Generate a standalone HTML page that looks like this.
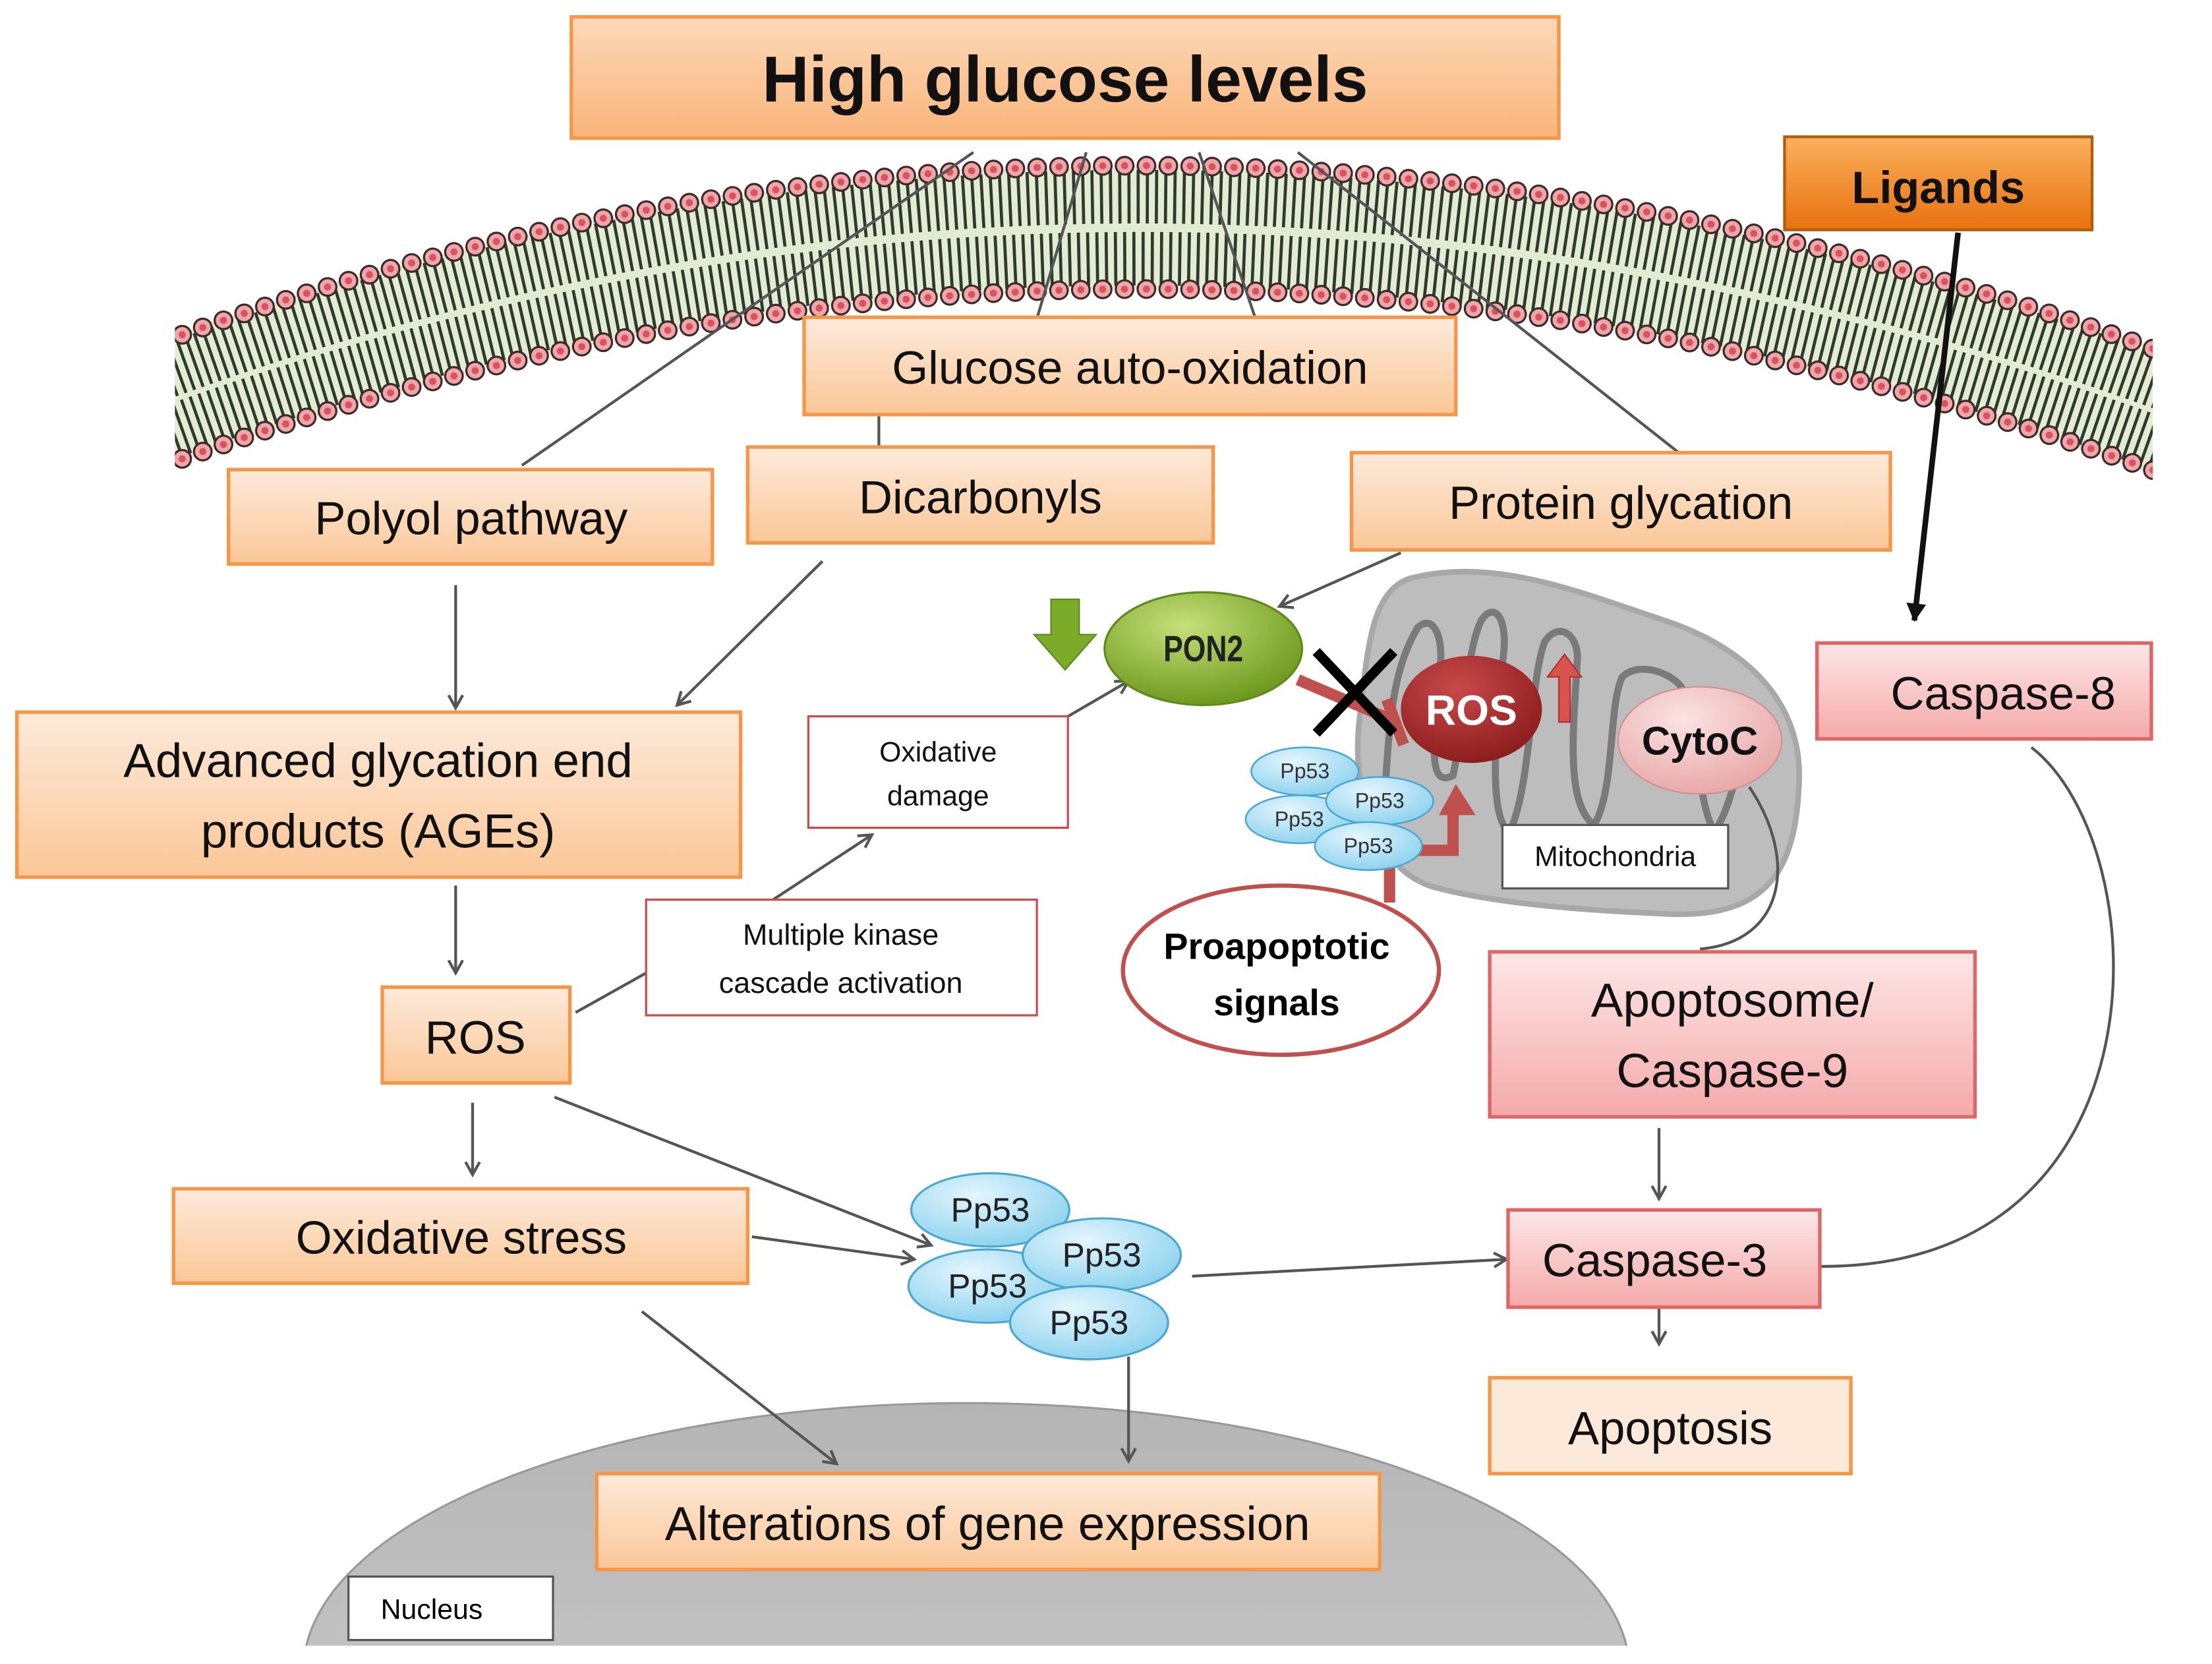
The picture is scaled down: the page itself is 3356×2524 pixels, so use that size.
<!DOCTYPE html>
<html><head><meta charset="utf-8"><style>
html,body{margin:0;padding:0;background:#fff;overflow:hidden;width:3356px;height:2524px;}
svg{display:block;}
text{font-family:"Liberation Sans",sans-serif;}
</style></head><body>
<svg width="3356" height="2524" viewBox="0 0 1568 1180" preserveAspectRatio="none" xmlns="http://www.w3.org/2000/svg">
<defs>
<linearGradient id="og" x1="0" y1="0" x2="0" y2="1"><stop offset="0" stop-color="#fdeadb"/><stop offset="1" stop-color="#fbc797"/></linearGradient>
<linearGradient id="og2" x1="0" y1="0" x2="0" y2="1"><stop offset="0" stop-color="#fcd9b8"/><stop offset="1" stop-color="#f9b47a"/></linearGradient>
<linearGradient id="lg" x1="0" y1="0" x2="0" y2="1"><stop offset="0" stop-color="#fbb05e"/><stop offset="1" stop-color="#e8710e"/></linearGradient>
<linearGradient id="pg" x1="0" y1="0" x2="0" y2="1"><stop offset="0" stop-color="#fde7e7"/><stop offset="1" stop-color="#f5a9a9"/></linearGradient>
<linearGradient id="ng" x1="0" y1="0" x2="0" y2="1"><stop offset="0" stop-color="#b5b5b5"/><stop offset="1" stop-color="#cfcfcf"/></linearGradient>
<radialGradient id="grn" cx="0.4" cy="0.3" r="0.7"><stop offset="0" stop-color="#c6e07a"/><stop offset="1" stop-color="#6e9a1e"/></radialGradient>
<radialGradient id="red" cx="0.4" cy="0.3" r="0.7"><stop offset="0" stop-color="#c9494a"/><stop offset="1" stop-color="#8e1e1e"/></radialGradient>
<radialGradient id="pk" cx="0.4" cy="0.3" r="0.7"><stop offset="0" stop-color="#fbe3e3"/><stop offset="1" stop-color="#e9a9aa"/></radialGradient>
<radialGradient id="bl" cx="0.4" cy="0.3" r="0.7"><stop offset="0" stop-color="#e4f6fd"/><stop offset="1" stop-color="#8fd3ef"/></radialGradient>
<marker id="ar" markerWidth="12" markerHeight="12" refX="10" refY="6" orient="auto" markerUnits="userSpaceOnUse"><path d="M1,1 L10,6 L1,11" fill="none" stroke="#555" stroke-width="2"/></marker>
<marker id="arb" markerWidth="16" markerHeight="16" refX="13" refY="8" orient="auto" markerUnits="userSpaceOnUse"><path d="M1,1 L14,8 L1,15 Z" fill="#111"/></marker>
<clipPath id="mc"><rect x="124" y="0" width="1402" height="400"/></clipPath>
<clipPath id="nc"><rect x="0" y="0" width="1568" height="1167"/></clipPath>
</defs>

<g clip-path="url(#mc)">
<path d="M100,292 Q812,27 1550,300" fill="none" stroke="#e3ecd3" stroke-width="86"/>
<path d="M100,270 Q812,5 1550,278" fill="none" stroke="#2e3a2e" stroke-width="38" stroke-dasharray="2.2 4.3"/>
<path d="M100,314 Q812,49 1550,322" fill="none" stroke="#2e3a2e" stroke-width="38" stroke-dasharray="2.2 4.3" stroke-dashoffset="3"/>
<path d="M100,248 Q812,-17 1550,256" fill="none" stroke="#3a2a2a" stroke-width="14" stroke-dasharray="0 15.5" stroke-linecap="round"/>
<path d="M100,248 Q812,-17 1550,256" fill="none" stroke="#f0a5a8" stroke-width="11" stroke-dasharray="0 15.5" stroke-linecap="round"/>
<path d="M100,248 Q812,-17 1550,256" fill="none" stroke="#d9535f" stroke-width="5" stroke-dasharray="0 15.5" stroke-linecap="round"/>
<path d="M100,336 Q812,71 1550,342" fill="none" stroke="#3a2a2a" stroke-width="14" stroke-dasharray="0 15.5" stroke-linecap="round"/>
<path d="M100,336 Q812,71 1550,342" fill="none" stroke="#f0a5a8" stroke-width="11" stroke-dasharray="0 15.5" stroke-linecap="round"/>
<path d="M100,336 Q812,71 1550,342" fill="none" stroke="#d9535f" stroke-width="5" stroke-dasharray="0 15.5" stroke-linecap="round"/>
</g>
<g stroke="#555" stroke-width="2" fill="none">
<line x1="690" y1="108" x2="370" y2="330"/>
<line x1="770" y1="108" x2="735" y2="226"/>
<line x1="850" y1="108" x2="890" y2="226"/>
<line x1="920" y1="108" x2="1190" y2="321"/>
</g>

<g clip-path="url(#nc)">
<ellipse cx="685" cy="1185" rx="470" ry="190" fill="url(#ng)" stroke="#999" stroke-width="1.5"/>
</g>
<rect x="247" y="1118" width="145" height="45" fill="#fff" stroke="#555" stroke-width="1.5"/>
<text x="306" y="1148" font-size="20" text-anchor="middle">Nucleus</text>

<path d="M1000,410 C1060,395 1120,420 1180,440 C1240,460 1280,500 1275,560 C1272,620 1250,652 1180,648 C1110,645 1060,640 1020,630 C975,620 955,560 965,500 C970,450 975,418 1000,410 Z" fill="#bdbdbd" stroke="#a8a8a8" stroke-width="4"/>
<path d="M982,560 C985,500 990,470 1005,445 C1015,435 1025,450 1020,480 C1018,520 1010,560 1030,550 C1040,500 1040,460 1050,440 C1060,425 1070,440 1065,470 C1060,520 1055,580 1070,590 C1085,560 1085,480 1095,455 C1105,440 1120,450 1118,470 C1115,520 1110,570 1130,585 C1145,560 1140,500 1150,480 C1160,470 1180,475 1190,485 C1205,500 1200,560 1215,590 C1230,570 1235,520 1245,510" fill="none" stroke="#7a7a7a" stroke-width="5"/>

<g stroke="#555" stroke-width="2" fill="none">
<line x1="623" y1="294" x2="623" y2="328" marker-end="url(#ar)"/>
<line x1="323" y1="415" x2="323" y2="502" marker-end="url(#ar)"/>
<line x1="583" y1="398" x2="480" y2="500" marker-end="url(#ar)"/>
<line x1="993" y1="392" x2="907" y2="430" marker-end="url(#ar)"/>
<line x1="323" y1="628" x2="323" y2="690" marker-end="url(#ar)"/>
<line x1="408" y1="718" x2="458" y2="690"/>
<line x1="548" y1="638" x2="618" y2="592" marker-end="url(#ar)"/>
<line x1="757" y1="508" x2="800" y2="483" marker-end="url(#ar)"/>
<line x1="335" y1="782" x2="335" y2="833" marker-end="url(#ar)"/>
<line x1="393" y1="778" x2="660" y2="883" marker-end="url(#ar)"/>
<line x1="533" y1="877" x2="648" y2="893" marker-end="url(#ar)"/>
<line x1="455" y1="930" x2="593" y2="1038" marker-end="url(#ar)"/>
<line x1="800" y1="962" x2="800" y2="1036" marker-end="url(#ar)"/>
<line x1="845" y1="905" x2="1068" y2="893" marker-end="url(#ar)"/>
<line x1="1176" y1="800" x2="1176" y2="850" marker-end="url(#ar)"/>
<line x1="1176" y1="910" x2="1176" y2="953" marker-end="url(#ar)"/>
<path d="M1440,530 C1530,600 1540,900 1290,898"/>
<path d="M1240,558 C1275,610 1265,668 1205,673"/>
</g>
<line x1="1388" y1="165" x2="1357" y2="440" stroke="#111" stroke-width="4" marker-end="url(#arb)"/>

<g stroke="#f79646" stroke-width="2.5">
<rect x="405" y="12" width="700" height="86" fill="url(#og2)"/>
<rect x="570" y="225" width="462" height="69" fill="url(#og)"/>
<rect x="530" y="317" width="330" height="68" fill="url(#og)"/>
<rect x="162" y="333" width="343" height="67" fill="url(#og)"/>
<rect x="958" y="321" width="382" height="69" fill="url(#og)"/>
<rect x="12" y="505" width="513" height="117" fill="url(#og)"/>
<rect x="271" y="700" width="133" height="68" fill="url(#og)"/>
<rect x="123" y="843" width="407" height="67" fill="url(#og)"/>
<rect x="423" y="1045" width="555" height="68" fill="url(#og)"/>
<rect x="1056" y="977" width="256" height="68" fill="#fde9d9"/>
</g>
<rect x="1265" y="97" width="218" height="66" fill="url(#lg)" stroke="#b35c0a" stroke-width="2"/>
<g stroke="#e06666" stroke-width="2.5" fill="url(#pg)">
<rect x="1288" y="456" width="237" height="68"/>
<rect x="1056" y="675" width="344" height="117"/>
<rect x="1069" y="858" width="221" height="69"/>
</g>
<g stroke="#d04848" stroke-width="1.5" fill="#fff">
<rect x="573" y="508" width="184" height="79"/>
<rect x="458" y="638" width="277" height="82"/>
</g>
<rect x="1065" y="585" width="160" height="45" fill="#fff" stroke="#555" stroke-width="1.5"/>

<g fill="#111" text-anchor="middle">
<text x="755" y="72" font-size="46" font-weight="bold">High glucose levels</text>
<text x="1374" y="144" font-size="32" font-weight="bold">Ligands</text>
<text x="801" y="272" font-size="33">Glucose auto-oxidation</text>
<text x="695" y="364" font-size="33">Dicarbonyls</text>
<text x="334" y="379" font-size="33">Polyol pathway</text>
<text x="1149" y="368" font-size="33">Protein glycation</text>
<text x="268" y="551" font-size="34">Advanced glycation end</text>
<text x="268" y="601" font-size="34">products (AGEs)</text>
<text x="337" y="747" font-size="33">ROS</text>
<text x="327" y="889" font-size="33">Oxidative stress</text>
<text x="700" y="1092" font-size="34">Alterations of gene expression</text>
<text x="1184" y="1024" font-size="33">Apoptosis</text>
<text x="1420" y="503" font-size="33">Caspase-8</text>
<text x="1228" y="721" font-size="34">Apoptosome/</text>
<text x="1228" y="771" font-size="34">Caspase-9</text>
<text x="1173" y="905" font-size="33">Caspase-3</text>
<text x="665" y="540" font-size="20">Oxidative</text>
<text x="665" y="571" font-size="20">damage</text>
<text x="596" y="670" font-size="21">Multiple kinase</text>
<text x="596" y="704" font-size="21">cascade activation</text>
<text x="1145" y="614" font-size="20">Mitochondria</text>
</g>

<path d="M745,425 h20 v25 h12 l-22,25 l-22,-25 h12 z" fill="#7cab2a" stroke="#5a8a1a" stroke-width="1"/>
<ellipse cx="853" cy="460" rx="70" ry="40" fill="url(#grn)" stroke="#5f8a1c" stroke-width="1.5"/>
<text x="853" y="469" font-size="26" font-weight="bold" text-anchor="middle" fill="#222" transform="translate(853 0) scale(0.8 1) translate(-853 0)">PON2</text>
<line x1="920" y1="482" x2="990" y2="512" stroke="#c0504d" stroke-width="8"/>
<line x1="983" y1="496" x2="995" y2="528" stroke="#c0504d" stroke-width="8"/>
<line x1="933" y1="462" x2="988" y2="520" stroke="#000" stroke-width="7"/>
<line x1="988" y1="462" x2="933" y2="520" stroke="#000" stroke-width="7"/>
<ellipse cx="1043" cy="503" rx="50" ry="38" fill="url(#red)"/>
<text x="1043" y="514" font-size="30" font-weight="bold" fill="#fff" text-anchor="middle">ROS</text>
<path d="M1105,512 v-32 h-8 l12,-16 l12,16 h-8 v32 z" fill="#d9534f" stroke="#b03030" stroke-width="1"/>
<ellipse cx="1205" cy="525" rx="58" ry="38" fill="url(#pk)" stroke="#d09090" stroke-width="1"/>
<text x="1205" y="535" font-size="28" font-weight="bold" fill="#111" text-anchor="middle">CytoC</text>

<path d="M985,640 V603 H1030 V572" fill="none" stroke="#c0504d" stroke-width="8"/>
<path d="M1020,578 L1032,556 L1046,578 Z" fill="#c0504d"/>
<g fill="url(#bl)" stroke="#4aa8d0" stroke-width="1.2">
<ellipse cx="925" cy="547" rx="38" ry="17"/>
<ellipse cx="921" cy="581" rx="38" ry="17"/>
<ellipse cx="978" cy="568" rx="38" ry="17"/>
<ellipse cx="970" cy="600" rx="38" ry="17"/>
</g>
<g font-size="15" fill="#333" text-anchor="middle">
<text x="925" y="552">Pp53</text><text x="921" y="586">Pp53</text><text x="978" y="573">Pp53</text><text x="970" y="605">Pp53</text>
</g>
<ellipse cx="908" cy="688" rx="112" ry="60" fill="#fff" stroke="#c0504d" stroke-width="3"/>
<text x="905" y="680" font-size="26" font-weight="bold" text-anchor="middle">Proapoptotic</text>
<text x="905" y="720" font-size="26" font-weight="bold" text-anchor="middle">signals</text>

<g fill="url(#bl)" stroke="#4aa8d0" stroke-width="1.5">
<ellipse cx="702" cy="858" rx="56" ry="26"/>
<ellipse cx="700" cy="912" rx="56" ry="26"/>
<ellipse cx="781" cy="890" rx="56" ry="26"/>
<ellipse cx="772" cy="938" rx="56" ry="26"/>
</g>
<g font-size="24" fill="#222" text-anchor="middle">
<text x="702" y="866">Pp53</text><text x="700" y="920">Pp53</text><text x="781" y="898">Pp53</text><text x="772" y="946">Pp53</text>
</g>
</svg>
</body></html>
